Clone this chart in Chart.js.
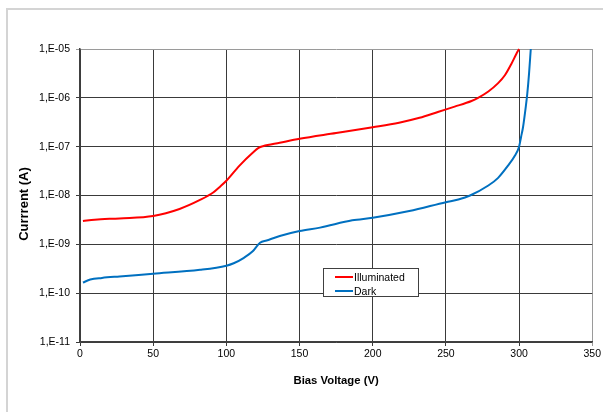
<!DOCTYPE html>
<html>
<head>
<meta charset="utf-8">
<script src="https://cdn.jsdelivr.net/npm/chart.js@4/dist/chart.umd.min.js"></script>
<style>
  html, body { margin: 0; padding: 0; background: #fff; }
  #wrap { position: relative; width: 603px; height: 412px; overflow: hidden; }
  #c { position: absolute; left: 0; top: 0; }
  .frameTop { position: absolute; left: 6px; top: 8px; width: 620px; height: 2px; background: #d4d4d4; }
  .frameLeft { position: absolute; left: 6px; top: 8px; width: 2px; height: 420px; background: #d4d4d4; }
  #legend { position: absolute; left: 323px; top: 268px; width: 96px; height: 29px; border: 1px solid #404040; background: #fff;
            font-family: "Liberation Sans", Arial, sans-serif; font-size: 10.5px; color: #000; box-sizing: border-box; }
  .row { position: absolute; left: 11px; height: 14px; line-height: 14px; white-space: nowrap; }
  .sw { display: inline-block; width: 18px; height: 2px; vertical-align: middle; margin-right: 1px; position: relative; top: -1px; }
</style>
</head>
<body>
<div id="wrap">
  <canvas id="c" width="603" height="412"></canvas>
  <div class="frameTop"></div>
  <div class="frameLeft"></div>
  <div id="legend">
    <div class="row" style="top:1px"><span class="sw" style="background:#ff0000"></span>Illuminated</div>
    <div class="row" style="top:15px"><span class="sw" style="background:#0070c0"></span>Dark</div>
  </div>
</div>
<script>
// ---- data ----
const voltIllum = [2, 10, 27, 50, 68, 82, 91, 95.5, 100, 109, 118, 122, 125, 136.5, 150, 175, 200, 218, 232, 245, 256, 267.5, 272, 279, 285.7, 290.3, 294.8, 298.2, 300];
const currIllum = [3.0e-9, 3.2e-9, 3.4e-9, 3.8e-9, 5.3e-9, 8.1e-9, 1.15e-8, 1.5e-8, 2.0e-8, 4.1e-8, 7.5e-8, 9.4e-8, 1.02e-7, 1.2e-7, 1.45e-7, 1.9e-7, 2.5e-7, 3.1e-7, 3.9e-7, 5.2e-7, 6.6e-7, 8.6e-7, 1.0e-6, 1.35e-6, 2.0e-6, 2.9e-6, 5.0e-6, 8.0e-6, 1.0e-5];
const voltDark = [2, 7, 15, 27, 50, 82, 100, 105, 112, 118, 123, 127.5, 136.5, 150, 164, 186, 200, 225, 250, 258.5, 266.5, 279, 285.7, 292.5, 297.1, 300, 301.4, 302.7, 304.6, 305.6, 306.8, 308];
const currDark = [1.65e-10, 1.9e-10, 2.05e-10, 2.2e-10, 2.5e-10, 3.0e-10, 3.65e-10, 4.1e-10, 5.3e-10, 7.2e-10, 1.08e-9, 1.2e-9, 1.48e-9, 1.87e-9, 2.2e-9, 3.1e-9, 3.5e-9, 4.8e-9, 7.3e-9, 8.3e-9, 1.0e-8, 1.6e-8, 2.3e-8, 4.1e-8, 6.5e-8, 1.0e-7, 1.6e-7, 2.5e-7, 6.6e-7, 1.2e-6, 3.1e-6, 1.0e-5];
const xTicks = [0, 50, 100, 150, 200, 250, 300, 350];
const yTicks = [1e-11, 1e-10, 1e-9, 1e-8, 1e-7, 1e-6, 1e-5];
const seriesNames = ['Illuminated', 'Dark'];
const xTitle = 'Bias Voltage (V)';
const yTitle = 'Currrent (A)';

const FONT = '"Liberation Sans", Arial, sans-serif';

function fmtY(v) {
  const e = Math.round(Math.log10(v));
  const a = Math.abs(e);
  return '1,E' + (e < 0 ? '-' : '+') + (a < 10 ? '0' : '') + a;
}

const titlesPlugin = {
  id: 'titles',
  afterDraw(chart) {
    const ctx = chart.ctx;
    const ca = chart.chartArea;
    ctx.save();
    ctx.fillStyle = '#000';
    ctx.textAlign = 'center';
    ctx.textBaseline = 'middle';
    ctx.font = 'bold 11.3px ' + FONT;
    ctx.fillText(xTitle, (ca.left + ca.right) / 2, 381);
    ctx.font = 'bold 13px ' + FONT;
    ctx.translate(24, 204);
    ctx.rotate(-Math.PI / 2);
    ctx.fillText(yTitle, 0, 0);
    ctx.restore();
  }
};

const bgPlugin = {
  id: 'bg',
  beforeDraw(chart) {
    const ctx = chart.ctx;
    ctx.save();
    ctx.fillStyle = '#fff';
    ctx.fillRect(0, 0, chart.width, chart.height);
    ctx.restore();
  }
};

new Chart(document.getElementById('c'), {
  type: 'scatter',
  data: {
    datasets: [
      {
        label: seriesNames[0],
        data: voltIllum.map((v, i) => ({ x: v, y: currIllum[i] })),
        showLine: true, borderColor: '#ff0000', backgroundColor: '#ff0000',
        borderWidth: 2, pointRadius: 0, cubicInterpolationMode: 'monotone'
      },
      {
        label: seriesNames[1],
        data: voltDark.map((v, i) => ({ x: v, y: currDark[i] })),
        showLine: true, borderColor: '#0070c0', backgroundColor: '#0070c0',
        borderWidth: 2, pointRadius: 0, cubicInterpolationMode: 'monotone'
      }
    ]
  },
  options: {
    responsive: false,
    animation: false,
    devicePixelRatio: 1,
    clip: false,
    layout: { padding: { left: 0, right: 9, top: 49, bottom: 0 } },
    plugins: { legend: { display: false }, tooltip: { enabled: false }, title: { display: false } },
    scales: {
      x: {
        type: 'linear', min: 0, max: 350,
        afterBuildTicks(s) { s.ticks = xTicks.map(v => ({ value: v })); },
        afterFit(s) { s.height = 70; },
        ticks: { font: { family: FONT, size: 10.5 }, color: '#000', padding: 2, maxRotation: 0 },
        grid: {
          color: c => (c.tick && c.tick.value === 350) ? '#9a9a9a' : '#3a3a3a',
          lineWidth: 1, tickLength: 4, drawTicks: true
        },
        border: { color: '#404040', width: 1.5 }
      },
      y: {
        type: 'logarithmic', min: 1e-11, max: 1e-5,
        afterBuildTicks(s) { s.ticks = yTicks.map(v => ({ value: v })); },
        afterFit(s) { s.width = 80; },
        ticks: { font: { family: FONT, size: 10.5 }, color: '#000', padding: 6, callback: v => fmtY(v) },
        grid: {
          color: c => (c.tick && c.tick.value === 1e-5) ? '#9a9a9a' : '#3a3a3a',
          lineWidth: 1, tickLength: 4, drawTicks: true
        },
        border: { color: '#404040', width: 1.5 }
      }
    }
  },
  plugins: [bgPlugin, titlesPlugin]
});
</script>
</body>
</html>
